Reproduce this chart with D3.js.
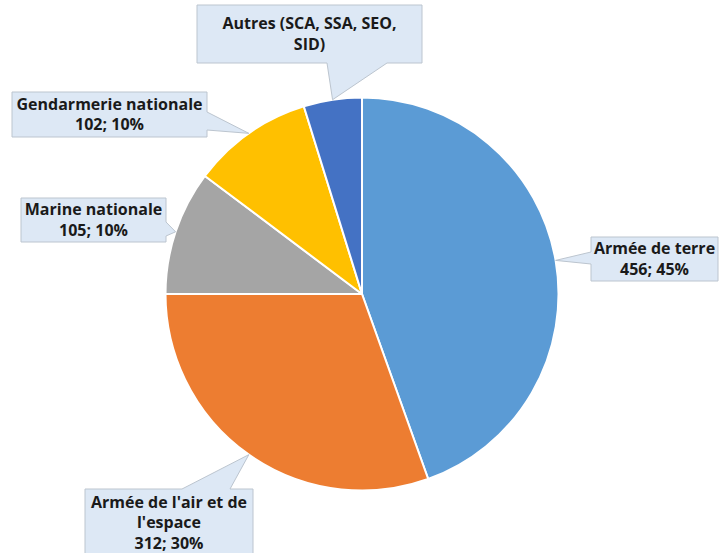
<!DOCTYPE html>
<html>
<head>
<meta charset="utf-8">
<script src="https://cdn.jsdelivr.net/npm/d3@7"></script>
<style>
  html, body { margin: 0; padding: 0; background: #fff; }
  svg { display: block; }
  text { font-family: "Open Sans", Lato, sans-serif; font-weight: 700; fill: #1a1a1a; }
</style>
</head>
<body>
<svg id="chart" width="723" height="553"></svg>
<script>
// ---- data ----
const categories = ["Armée de terre", "Armée de l'air et de l'espace", "Marine nationale", "Gendarmerie nationale", "Autres (SCA, SSA, SEO, SID)"];
const values = [456, 312, 105, 102, 49];
const colors = ["#5b9bd5", "#ed7d31", "#a5a5a5", "#ffc000", "#4472c4"];
// label line wrapping as shown in the reference
const nameLines = [["Armée de terre"], ["Armée de l'air et de", "l'espace"], ["Marine nationale"], ["Gendarmerie nationale"], ["Autres (SCA, SSA, SEO,", "SID)"]];
const showValue = [true, true, true, true, false];

// ---- layout ----
const cx = 362, cy = 294, R = 196.5;
const boxes = [
  {x0: 591, y0: 237, x1: 718, y1: 281, side: "left",   a: 252, b: 264},
  {x0: 85,  y0: 489, x1: 253, y1: 562, side: "top",    a: 182, b: 230},
  {x0: 21,  y0: 198, x1: 166, y1: 242, side: "right",  a: 222, b: 236},
  {x0: 12,  y0: 92,  x1: 207, y1: 137, side: "right",  a: 112, b: 130},
  {x0: 197, y0: 5,   x1: 422, y1: 63,  side: "bottom", a: 327, b: 387}
];

const svg = d3.select("#chart");
const total = d3.sum(values);
const data = categories.map((c, i) => ({name: c, value: values[i], color: colors[i], i}));

const pie = d3.pie().value(d => d.value).sort(null).startAngle(0).endAngle(2 * Math.PI);
const arcs = pie(data);
const arc = d3.arc().innerRadius(0).outerRadius(R);

const g = svg.append("g").attr("transform", `translate(${cx},${cy})`);
g.selectAll("path.slice").data(arcs).enter().append("path")
  .attr("class", "slice")
  .attr("d", arc)
  .attr("fill", d => d.data.color)
  .attr("stroke", "#ffffff")
  .attr("stroke-width", 2)
  .attr("stroke-linejoin", "round");

function calloutPath(b, tx, ty) {
  const {x0, y0, x1, y1, side, a, b: bb} = b;
  let p = `M${x0},${y0}`;
  if (side === "top") p += `L${a},${y0}L${tx},${ty}L${bb},${y0}`;
  p += `L${x1},${y0}`;
  if (side === "right") p += `L${x1},${a}L${tx},${ty}L${x1},${bb}`;
  p += `L${x1},${y1}`;
  if (side === "bottom") p += `L${bb},${y1}L${tx},${ty}L${a},${y1}`;
  p += `L${x0},${y1}`;
  if (side === "left") p += `L${x0},${bb}L${tx},${ty}L${x0},${a}`;
  return p + "Z";
}

const lineH = 20.5;
arcs.forEach((d, i) => {
  const mid = (d.startAngle + d.endAngle) / 2;
  const tx = cx + R * Math.sin(mid);
  const ty = cy - R * Math.cos(mid);
  const b = boxes[i];
  svg.append("path")
    .attr("d", calloutPath(b, tx, ty))
    .attr("fill", "#dde8f5")
    .attr("stroke", "#bcc5cf")
    .attr("stroke-width", 1);
  const lines = nameLines[i].slice();
  if (showValue[i]) lines.push(`${d.data.value}; ${Math.round(d.data.value / total * 100)}%`);
  const bx = (b.x0 + b.x1) / 2;
  const yTop = b.y0 + (b.side === "top" ? 13 : (b.y1 - b.y0 - lineH * lines.length) / 2 + lineH / 2);
  const t = svg.append("text")
    .attr("text-anchor", "middle")
    .attr("font-size", 16);
  lines.forEach((ln, k) => {
    t.append("tspan")
      .attr("x", bx)
      .attr("y", yTop + k * lineH)
      .attr("dy", "0.35em")
      .text(ln);
  });
});
</script>
</body>
</html>
